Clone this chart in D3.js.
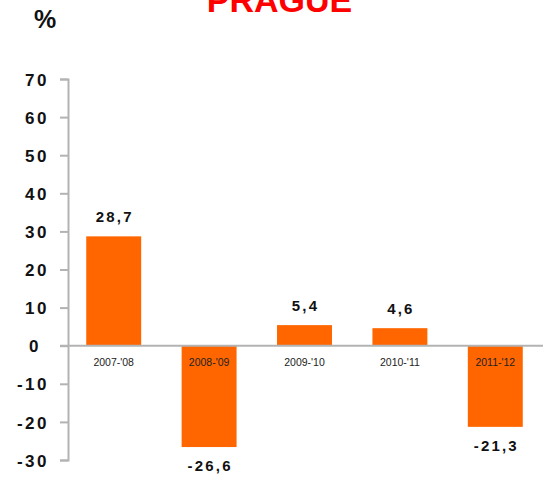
<!DOCTYPE html>
<html>
<head>
<meta charset="utf-8">
<script src="https://cdn.jsdelivr.net/npm/d3@7"></script>
<style>
  html, body { margin: 0; padding: 0; background: #fff; }
  svg { display: block; font-family: Arial, "Liberation Sans", sans-serif; }
</style>
</head>
<body>
<svg id="chart" width="543" height="477"></svg>
<script>
// Year-on-year change, Prague (%)
const seasons = ["2007-'08", "2008-'09", "2009-'10", "2010-'11", "2011-'12"];
const changes = [28.7, -26.6, 5.4, 4.6, -21.3];
const valueLabels = ["28,7", "-26,6", "5,4", "4,6", "-21,3"];
const yTicks = [70, 60, 50, 40, 30, 20, 10, 0, -10, -20, -30];

const svg = d3.select("#chart");
const W = 543, H = 477;
const axisColor = "#b3b3b3";
const barColor = "#ff6600";

const x = d3.scaleBand()
  .domain(seasons)
  .range([66, 543])
  .paddingInner(0.424)
  .paddingOuter(0.212);

const y = d3.scaleLinear()
  .domain([-30, 70])
  .range([460, 79]);

// Title (partly above the top edge)
svg.append("text")
  .attr("x", 279.5)
  .attr("y", 12)
  .attr("text-anchor", "middle")
  .attr("font-size", 34)
  .attr("font-weight", "bold")
  .attr("fill", "#ff0000")
  .text("PRAGUE");

// Unit label
svg.append("text")
  .attr("x", 34)
  .attr("y", 28)
  .attr("font-size", 25)
  .attr("font-weight", "bold")
  .attr("fill", "#111")
  .text("%");

// Value axis (plain hyphen for negatives)
const yAxis = d3.axisLeft(y)
  .tickValues(yTicks)
  .tickSize(8)
  .tickPadding(0)
  .tickFormat(d => String(d));

const gy = svg.append("g")
  .attr("transform", "translate(68,0)")
  .call(yAxis);

gy.select(".domain").attr("stroke", axisColor).attr("stroke-width", 2);
gy.selectAll(".tick line").attr("stroke", axisColor).attr("stroke-width", 2);
gy.selectAll(".tick text")
  .attr("x", -19)
  .attr("dy", "0.36em")
  .attr("font-size", 17)
  .attr("font-weight", "bold")
  .attr("fill", "#111")
  .attr("font-family", "Arial, 'Liberation Sans', sans-serif")
  .style("letter-spacing", "2.5px")
  .attr("dx", d => d === 0 ? -8 : 0);

// Bars
svg.append("g")
  .selectAll("rect")
  .data(changes)
  .join("rect")
  .attr("x", (d, i) => x(seasons[i]))
  .attr("width", x.bandwidth())
  .attr("y", d => y(Math.max(0, d)))
  .attr("height", d => Math.abs(y(d) - y(0)))
  .attr("fill", barColor);

// Zero line
svg.append("line")
  .attr("x1", 60)
  .attr("x2", W)
  .attr("y1", y(0))
  .attr("y2", y(0))
  .attr("stroke", axisColor)
  .attr("stroke-width", 2);

// Category labels just under the zero line
svg.append("g")
  .selectAll("text")
  .data(seasons)
  .join("text")
  .attr("x", d => x(d) + x.bandwidth() / 2)
  .attr("y", y(0) + 20)
  .attr("text-anchor", "middle")
  .attr("font-size", 10.5)
  .attr("fill", "#222")
  .text(d => d);

// Value labels
svg.append("g")
  .selectAll("text")
  .data(changes)
  .join("text")
  .attr("x", (d, i) => x(seasons[i]) + x.bandwidth() / 2 + 1)
  .attr("y", d => d >= 0 ? y(d) - 14 : y(d) + 24)
  .attr("text-anchor", "middle")
  .attr("font-size", 15)
  .attr("font-weight", "bold")
  .attr("fill", "#111")
  .style("letter-spacing", "2.2px")
  .text((d, i) => valueLabels[i]);
</script>
</body>
</html>
